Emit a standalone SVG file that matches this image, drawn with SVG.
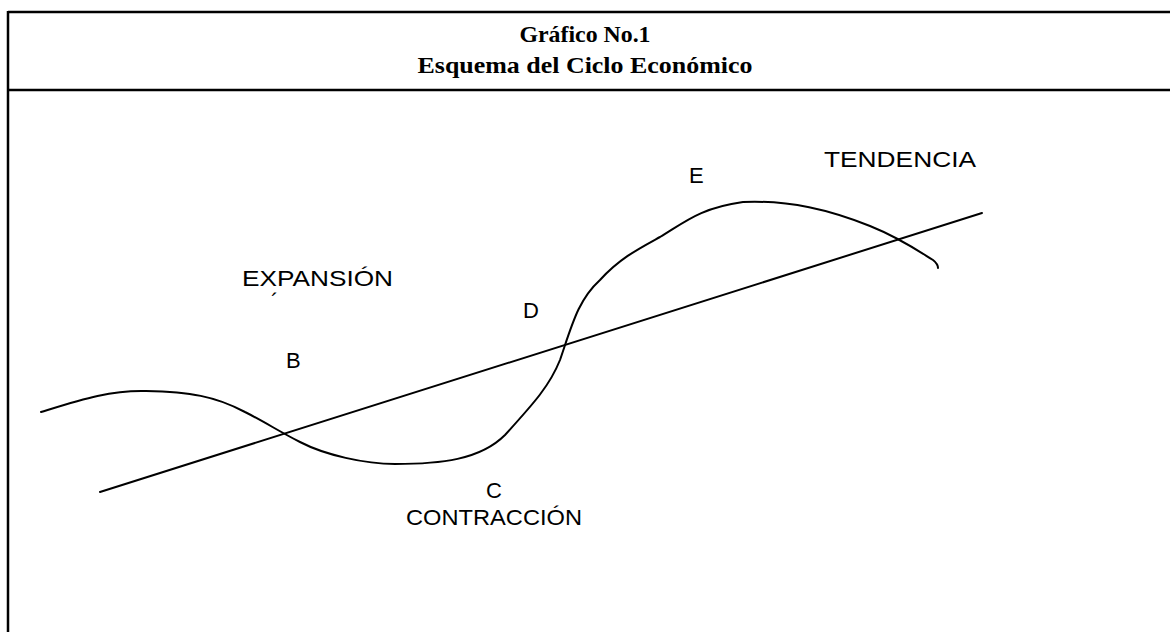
<svg xmlns="http://www.w3.org/2000/svg" width="1170" height="632" viewBox="0 0 1170 632">
<style>
.frame{stroke:#000;stroke-width:2.5;fill:none}
.ln{stroke:#000;stroke-width:2;fill:none;stroke-linecap:round;stroke-linejoin:round}
.ttl{font-family:"Liberation Serif","Times New Roman",serif;font-weight:bold;font-size:23px;fill:#000;text-anchor:middle}
.lbl{font-family:"Liberation Sans",Arial,sans-serif;font-size:22px;fill:#000}
</style>
<rect width="1170" height="632" fill="#fff"/>
<g id="frame">
<line class="frame" x1="8" y1="12" x2="1170" y2="12"/>
<line class="frame" x1="8" y1="90" x2="1170" y2="90"/>
<line class="frame" x1="8" y1="11" x2="8" y2="632"/>
</g>
<g id="title">
<text class="ttl" x="585" y="42" textLength="131" lengthAdjust="spacingAndGlyphs">Gráfico No.1</text>
<text class="ttl" x="585" y="73" textLength="335" lengthAdjust="spacingAndGlyphs">Esquema del Ciclo Económico</text>
</g>
<g id="connectors">
<path id="cycle" class="ln" d="M41,412 C80,400 110,390 146,391 C190,392 215,396 245,412 C265,422 280,432 300,442 C325,455 365,464 395,464 C440,464 480,460 505,435 C535,402 550,385 560,360 C572,325 578,300 600,280 C620,258 640,248 660,237 C685,222 700,208 743,202 C790,200 830,210 870,226 C900,238 920,252 933,260 C938,264 938,266 938,268"/>
<line id="trend" class="ln" x1="100" y1="492" x2="982" y2="213"/>
</g>
<g id="label-expansion"><text class="lbl" x="242" y="286" textLength="151" lengthAdjust="spacingAndGlyphs">EXPANSIÓN</text><text class="lbl" x="271" y="309" font-size="14">´</text></g>
<g id="label-b"><text class="lbl" x="286" y="368">B</text></g>
<g id="label-c"><text class="lbl" x="486" y="498">C</text></g>
<g id="label-contraccion"><text class="lbl" x="406" y="525" textLength="176" lengthAdjust="spacingAndGlyphs">CONTRACCIÓN</text></g>
<g id="label-d"><text class="lbl" x="523" y="318">D</text></g>
<g id="label-e"><text class="lbl" x="689" y="183">E</text></g>
<g id="label-tendencia"><text class="lbl" x="824" y="167" textLength="152" lengthAdjust="spacingAndGlyphs">TENDENCIA</text></g>
</svg>
